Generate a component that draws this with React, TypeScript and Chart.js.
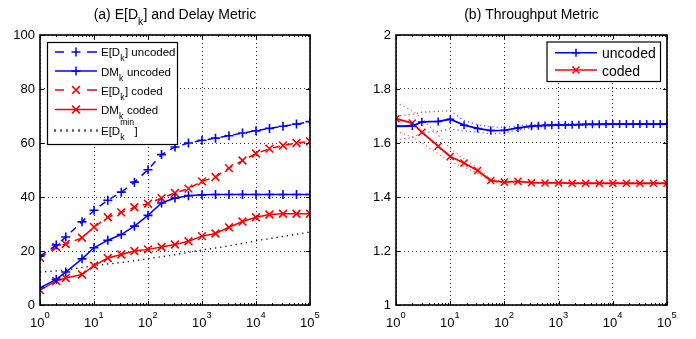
import React, { useEffect, useRef } from "react";
import { Chart, registerables } from "chart.js";
Chart.register(...registerables);

const FONT = '"Liberation Sans", Arial, Helvetica, sans-serif';

// ---------- data: (a) delay metric ----------
const xDelay = [1, 2, 3, 6, 10, 18, 32, 56, 100, 178, 316, 562, 1000, 1778, 3162, 5623, 10000, 17783, 31623, 56234, 100000];
const edUncoded = [18.1, 22.2, 25.2, 30.8, 35.1, 38.8, 41.8, 45.5, 50.1, 55.7, 58.5, 60.0, 61.0, 61.8, 62.7, 63.7, 64.5, 65.4, 66.2, 67.0, 67.9];
const dmUncoded = [6.4, 9.5, 12.2, 17.1, 21.2, 24.0, 26.1, 29.2, 33.2, 37.8, 39.6, 40.5, 40.8, 40.9, 40.9, 40.9, 40.9, 40.9, 40.9, 40.9, 40.9];
const edCoded = [17.5, 21.5, 22.6, 24.9, 28.9, 32.5, 34.3, 36.2, 37.5, 39.6, 41.5, 43.1, 45.8, 47.4, 50.7, 53.5, 56.1, 57.9, 59.1, 60.0, 60.6];
const dmCoded = [5.5, 8.9, 10.0, 11.3, 14.6, 17.4, 18.7, 20.0, 20.6, 21.5, 22.4, 23.6, 25.5, 26.5, 28.8, 30.9, 32.5, 33.5, 33.8, 33.8, 33.8];
const edMin = [12.2, 12.6, 13.0, 13.9, 14.5, 15.2, 15.7, 16.4, 17.2, 17.9, 18.6, 19.5, 20.4, 21.1, 21.9, 22.8, 23.8, 24.6, 25.4, 26.2, 27.0];
const delayYTicks = [0, 20, 40, 60, 80, 100];

// ---------- data: (b) throughput metric ----------
const xTpUncoded = [1, 2, 3, 6, 10, 18, 32, 56, 100, 178, 316, 422, 562, 750, 1000, 1334, 1778, 2371, 3162, 4217, 5623, 7499, 10000, 13335, 17783, 23714, 31623, 42170, 56234, 74989, 100000];
const tpUncoded = [1.662, 1.663, 1.678, 1.680, 1.688, 1.666, 1.654, 1.646, 1.647, 1.656, 1.662, 1.664, 1.665, 1.666, 1.667, 1.667, 1.668, 1.668, 1.669, 1.669, 1.669, 1.670, 1.670, 1.670, 1.670, 1.670, 1.670, 1.670, 1.670, 1.670, 1.670];
const tpUncodedHi = [1.700, 1.706, 1.714, 1.717, 1.720, 1.683, 1.668, 1.660, 1.657, 1.664, 1.668, 1.669, 1.670, 1.671, 1.671, 1.671, 1.671, 1.671, 1.671, 1.671, 1.671];
const tpUncodedLo = [1.612, 1.620, 1.637, 1.643, 1.652, 1.645, 1.640, 1.634, 1.637, 1.648, 1.656, 1.662, 1.664, 1.665, 1.666, 1.667, 1.668, 1.668, 1.668, 1.668, 1.668];
const tpCoded = [1.690, 1.674, 1.640, 1.588, 1.550, 1.526, 1.498, 1.461, 1.455, 1.458, 1.453, 1.452, 1.452, 1.451, 1.451, 1.451, 1.451, 1.451, 1.451, 1.451, 1.451];
const tpCodedHi = [1.750, 1.720, 1.690, 1.630, 1.580, 1.542, 1.508, 1.466, 1.458, 1.460, 1.455, 1.454, 1.453, 1.452, 1.452, 1.452, 1.452, 1.452, 1.452, 1.452, 1.452];
const tpCodedLo = [1.645, 1.622, 1.600, 1.560, 1.530, 1.512, 1.488, 1.457, 1.452, 1.455, 1.451, 1.450, 1.450, 1.450, 1.450, 1.450, 1.450, 1.450, 1.450, 1.450, 1.450];
const tpYTicks = [1, 1.2, 1.4, 1.6, 1.8, 2];

const decades = [1, 10, 100, 1000, 10000, 100000];

const BLUE = "#0000ff";
const RED = "#ff0000";

const pts = (xs: number[], ys: number[]) => xs.map((x, i) => ({ x, y: ys[i] }));

type Seg = { t?: string; sub?: string; sup?: string };

function fnt(size: number) {
  return `${size}px ${FONT}`;
}

function segW(ctx: CanvasRenderingContext2D, s: Seg, size: number, small: number) {
  if (s.t !== undefined) {
    ctx.font = fnt(size);
    return ctx.measureText(s.t).width;
  }
  ctx.font = fnt(size * small);
  const a = s.sub ? ctx.measureText(s.sub).width : 0;
  const b = s.sup ? ctx.measureText(s.sup).width : 0;
  return Math.max(a, b) + 0.5;
}

function drawRich(
  ctx: CanvasRenderingContext2D,
  x: number,
  y: number,
  segs: Seg[],
  size: number,
  align: "left" | "center",
  supDy = 0.6,
  subDy = 0.45,
  small = 0.72
) {
  ctx.textAlign = "left";
  ctx.textBaseline = "alphabetic";
  const widths = segs.map((s) => segW(ctx, s, size, small));
  const total = widths.reduce((p, c) => p + c, 0);
  let cx = align === "center" ? x - total / 2 : x;
  segs.forEach((s, i) => {
    if (s.t !== undefined) {
      ctx.font = fnt(size);
      ctx.fillText(s.t, cx, y);
    } else {
      ctx.font = fnt(size * small);
      if (s.sub) ctx.fillText(s.sub, cx, y + size * subDy);
      if (s.sup) ctx.fillText(s.sup, cx, y - size * supDy);
    }
    cx += widths[i];
  });
}

function drawMarker(ctx: CanvasRenderingContext2D, kind: string, x: number, y: number, r: number) {
  ctx.beginPath();
  if (kind === "cross") {
    ctx.moveTo(x - r, y);
    ctx.lineTo(x + r, y);
    ctx.moveTo(x, y - r);
    ctx.lineTo(x, y + r);
  } else {
    const d = r * 0.7071;
    ctx.moveTo(x - d, y - d);
    ctx.lineTo(x + d, y + d);
    ctx.moveTo(x - d, y + d);
    ctx.lineTo(x + d, y - d);
  }
  ctx.stroke();
}

type LegendItem = { label: Seg[]; color: string; kind: "solid" | "dashed" | "dotted"; marker: string | null; r: number; lineY: number; base: number; supDy?: number };
type LegendCfg = { box: [number, number, number, number]; x1: number; x2: number; mx: number; tx: number; size: number; items: LegendItem[] };

function makeDeco(title: Seg[], legend: LegendCfg, yTicks: number[]) {
  return {
    id: "deco",
    afterDraw(chart: any) {
      const ctx: CanvasRenderingContext2D = chart.ctx;
      const a = chart.chartArea;
      const xs = chart.scales.x;
      const ys = chart.scales.y;
      ctx.save();
      ctx.strokeStyle = "#000";
      ctx.lineWidth = 1;
      ctx.setLineDash([]);
      // minor ticks (log)
      for (let d = 0; d < 5; d++) {
        for (let m = 2; m <= 9; m++) {
          const px = Math.round(xs.getPixelForValue(m * Math.pow(10, d))) + 0.5;
          ctx.beginPath();
          ctx.moveTo(px, a.bottom);
          ctx.lineTo(px, a.bottom - 2);
          ctx.moveTo(px, a.top);
          ctx.lineTo(px, a.top + 2);
          ctx.stroke();
        }
      }
      // major ticks
      decades.forEach((v) => {
        const px = Math.round(xs.getPixelForValue(v)) + 0.5;
        ctx.beginPath();
        ctx.moveTo(px, a.bottom);
        ctx.lineTo(px, a.bottom - 4);
        ctx.moveTo(px, a.top);
        ctx.lineTo(px, a.top + 4);
        ctx.stroke();
      });
      yTicks.forEach((v) => {
        const py = Math.round(ys.getPixelForValue(v)) + 0.5;
        ctx.beginPath();
        ctx.moveTo(a.left, py);
        ctx.lineTo(a.left + 4, py);
        ctx.moveTo(a.right, py);
        ctx.lineTo(a.right - 4, py);
        ctx.stroke();
      });
      // frame
      ctx.lineWidth = 1.6;
      ctx.strokeRect(a.left, a.top, a.right - a.left, a.bottom - a.top);
      // x tick labels
      ctx.fillStyle = "#000";
      decades.forEach((v, e) => {
        const px = xs.getPixelForValue(v);
        drawRich(ctx, px, 326.5, [{ t: "10" }, { sup: String(e) }], 13, "center", 0.65, 0.45, 0.72);
      });
      // title
      drawRich(ctx, (a.left + a.right) / 2, 18.5, title, 14, "center", 0.6, 0.48, 0.72);
      // legend
      const [bx, by, bw, bh] = legend.box;
      ctx.fillStyle = "#fff";
      ctx.fillRect(bx, by, bw, bh);
      ctx.strokeStyle = "#000";
      ctx.lineWidth = 1.2;
      ctx.strokeRect(bx + 0.5, by + 0.5, bw, bh);
      legend.items.forEach((it) => {
        ctx.strokeStyle = it.color;
        ctx.lineWidth = 1.5;
        ctx.setLineDash([]);
        if (it.kind === "solid") {
          ctx.beginPath();
          ctx.moveTo(legend.x1, it.lineY);
          ctx.lineTo(legend.x2, it.lineY);
          ctx.stroke();
        } else if (it.kind === "dashed") {
          ctx.beginPath();
          ctx.moveTo(legend.x1, it.lineY);
          ctx.lineTo(legend.x1 + 9, it.lineY);
          ctx.moveTo(legend.x2 - 10, it.lineY);
          ctx.lineTo(legend.x2, it.lineY);
          ctx.stroke();
        } else {
          ctx.lineWidth = 1.3;
          for (let xx = legend.x1; xx <= legend.x2; xx += 6) {
            ctx.beginPath();
            ctx.moveTo(xx, it.lineY - 1.2);
            ctx.lineTo(xx, it.lineY + 1.2);
            ctx.stroke();
          }
        }
        if (it.marker) {
          ctx.lineWidth = 1.5;
          drawMarker(ctx, it.marker, legend.mx, it.lineY, it.r);
        }
        ctx.fillStyle = "#000";
        drawRich(ctx, legend.tx, it.base, it.label, legend.size, "left", it.supDy ?? 0.6, 0.45, 0.75);
      });
      ctx.restore();
    },
  };
}

function scaleX(width: number) {
  return {
    type: "logarithmic" as const,
    min: 1,
    max: 100000,
    afterBuildTicks: (s: any) => {
      s.ticks = decades.map((v) => ({ value: v }));
    },
    afterFit: (s: any) => {
      s.height = 34;
    },
    ticks: { display: false },
    grid: { color: "rgba(0,0,0,0.8)", lineWidth: 1, drawTicks: false },
    border: { display: false, dash: [1, 3] },
  };
}

function scaleY(min: number, max: number, ticks: number[], width: number, fmt: (v: number) => string) {
  return {
    type: "linear" as const,
    min,
    max,
    afterBuildTicks: (s: any) => {
      s.ticks = ticks.map((v) => ({ value: v }));
    },
    afterFit: (s: any) => {
      s.width = width;
    },
    ticks: {
      color: "#000",
      padding: 5,
      font: { family: FONT, size: 13 },
      callback: (v: any) => fmt(Number(v)),
    },
    grid: { color: "rgba(0,0,0,0.8)", lineWidth: 1, drawTicks: false },
    border: { display: false, dash: [1, 3] },
  };
}

function DelayChart() {
  const ref = useRef<HTMLCanvasElement>(null);
  useEffect(() => {
    const legend: LegendCfg = {
      box: [47, 42, 130, 102],
      x1: 55,
      x2: 97,
      mx: 76,
      tx: 101,
      size: 11.5,
      items: [
        { label: [{ t: "E[D" }, { sub: "k" }, { t: "] uncoded" }], color: BLUE, kind: "dashed", marker: "cross", r: 4.5, lineY: 52, base: 56 },
        { label: [{ t: "DM" }, { sub: "k" }, { t: " uncoded" }], color: BLUE, kind: "solid", marker: "cross", r: 4.5, lineY: 71, base: 75.5 },
        { label: [{ t: "E[D" }, { sub: "k" }, { t: "] coded" }], color: RED, kind: "dashed", marker: "crossRot", r: 5.5, lineY: 90, base: 94.5 },
        { label: [{ t: "DM" }, { sub: "k" }, { t: " coded" }], color: RED, kind: "solid", marker: "crossRot", r: 5.5, lineY: 109.5, base: 114 },
        { label: [{ t: "E[D" }, { sub: "k", sup: "min" }, { t: "]" }], color: "#000", kind: "dotted", marker: null, r: 0, lineY: 130.5, base: 135, supDy: 0.85 },
      ],
    };
    const chart = new Chart(ref.current!, {
      type: "line",
      data: {
        datasets: [
          { label: "E[D_k] uncoded", data: pts(xDelay, edUncoded), borderColor: BLUE, backgroundColor: BLUE, borderWidth: 1.5, borderDash: [7, 6], pointStyle: "cross", pointRadius: 4.5, pointBorderWidth: 1.6 },
          { label: "DM_k uncoded", data: pts(xDelay, dmUncoded), borderColor: BLUE, backgroundColor: BLUE, borderWidth: 1.5, pointStyle: "cross", pointRadius: 4.5, pointBorderWidth: 1.6 },
          { label: "E[D_k] coded", data: pts(xDelay, edCoded), borderColor: RED, backgroundColor: RED, borderWidth: 1.5, borderDash: [7, 6], pointStyle: "crossRot", pointRadius: 5.5, pointBorderWidth: 1.6 },
          { label: "DM_k coded", data: pts(xDelay, dmCoded), borderColor: RED, backgroundColor: RED, borderWidth: 1.5, pointStyle: "crossRot", pointRadius: 5.5, pointBorderWidth: 1.6 },
          { label: "E[D_k^min]", data: pts(xDelay, edMin), borderColor: "#000", backgroundColor: "#000", borderWidth: 1.4, borderDash: [1.2, 4], pointRadius: 0 },
        ],
      },
      options: {
        responsive: false,
        animation: false,
        events: [],
        devicePixelRatio: 1,
        layout: { padding: { left: 0, top: 35, right: 40, bottom: 0 } },
        plugins: { legend: { display: false }, title: { display: false }, tooltip: { enabled: false } },
        scales: {
          x: scaleX(0) as any,
          y: scaleY(0, 100, delayYTicks, 40, (v) => String(v)) as any,
        },
      },
      plugins: [makeDeco([{ t: "(a) E[D" }, { sub: "k" }, { t: "] and Delay Metric" }], legend, delayYTicks)],
    });
    return () => chart.destroy();
  }, []);
  return <canvas ref={ref} width={350} height={339} style={{ position: "absolute", left: 0, top: 0 }} />;
}

function ThroughputChart() {
  const ref = useRef<HTMLCanvasElement>(null);
  useEffect(() => {
    const legend: LegendCfg = {
      box: [196.5, 41.5, 113.5, 39.5],
      x1: 205,
      x2: 247,
      mx: 226,
      tx: 252,
      size: 14,
      items: [
        { label: [{ t: "uncoded" }], color: BLUE, kind: "solid", marker: "cross", r: 4, lineY: 52.7, base: 58 },
        { label: [{ t: "coded" }], color: RED, kind: "solid", marker: "crossRot", r: 5, lineY: 70, base: 75.5 },
      ],
    };
    const bound = (xs: number[], ys: number[], color: string) => ({
      label: "bound",
      data: pts(xs, ys),
      borderColor: color,
      borderWidth: 1.3,
      borderDash: [1.2, 3],
      pointRadius: 0,
      order: 5,
    });
    const chart = new Chart(ref.current!, {
      type: "line",
      data: {
        datasets: [
          { label: "uncoded", data: pts(xTpUncoded, tpUncoded), borderColor: BLUE, backgroundColor: BLUE, borderWidth: 1.8, pointStyle: "cross", pointRadius: 4, pointBorderWidth: 1.5, order: 1 },
          { label: "coded", data: pts(xDelay, tpCoded), borderColor: RED, backgroundColor: RED, borderWidth: 1.8, pointStyle: "crossRot", pointRadius: 5, pointBorderWidth: 1.5, order: 2 },
          bound(xDelay, tpUncodedHi, "rgba(40,40,255,0.75)"),
          bound(xDelay, tpUncodedLo, "rgba(40,40,255,0.75)"),
          bound(xDelay, tpCodedHi, "rgba(255,60,60,0.75)"),
          bound(xDelay, tpCodedLo, "rgba(255,60,60,0.75)"),
        ],
      },
      options: {
        responsive: false,
        animation: false,
        events: [],
        devicePixelRatio: 1,
        layout: { padding: { left: 0, top: 35, right: 29, bottom: 0 } },
        plugins: { legend: { display: false }, title: { display: false }, tooltip: { enabled: false } },
        scales: {
          x: scaleX(0) as any,
          y: scaleY(1, 2, tpYTicks, 46, (v) => String(Math.round(v * 10) / 10)) as any,
        },
      },
      plugins: [makeDeco([{ t: "(b) Throughput Metric" }], legend, tpYTicks)],
    });
    return () => chart.destroy();
  }, []);
  return <canvas ref={ref} width={346} height={339} style={{ position: "absolute", left: 350, top: 0 }} />;
}

export default function App() {
  return (
    <div style={{ position: "absolute", left: 0, top: 0, width: 696, height: 339, background: "#fff", overflow: "hidden" }}>
      <DelayChart />
      <ThroughputChart />
    </div>
  );
}
